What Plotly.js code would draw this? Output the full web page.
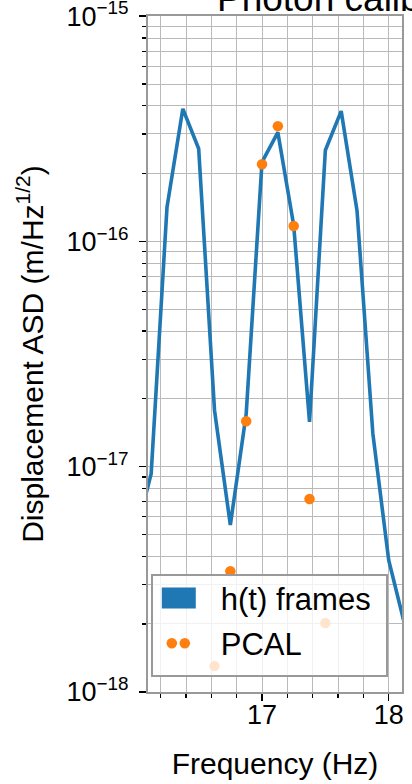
<!DOCTYPE html>
<html>
<head>
<meta charset="utf-8">
<script src="https://cdn.plot.ly/plotly-3.0.1.min.js"></script>
<style>html,body{margin:0;padding:0;background:#fff;}#chart{width:412px;height:784px;}</style>
</head>
<body>
<div id="chart"></div>
<script>
// ---- data ----
const htFreq = [16.0, 16.125, 16.25, 16.375, 16.5, 16.625, 16.75, 16.875, 17.0, 17.125, 17.25, 17.375, 17.5, 17.625, 17.75, 17.875, 18.0, 18.125];
const htASD  = [4.9e-18, 9.3e-18, 1.42e-16, 3.88e-16, 2.58e-16, 1.78e-17, 5.5e-18, 1.71e-17, 2.25e-16, 3.05e-16, 1.18e-16, 1.58e-17, 2.54e-16, 3.79e-16, 1.37e-16, 1.40e-17, 3.84e-18, 2.0e-18];
const pcalFreq = [16.625, 16.75, 16.875, 17.0, 17.125, 17.25, 17.375, 17.5];
const pcalASD  = [1.30e-18, 3.43e-18, 1.59e-17, 2.20e-16, 3.25e-16, 1.17e-16, 7.18e-18, 2.02e-18];
const xTickVals = [17, 18];
const xTickText = ['17', '18'];
const yTickVals = [1e-18, 1e-17, 1e-16, 1e-15];
const yTickText = ['10<sup>\u221218</sup>', '10<sup>\u221217</sup>', '10<sup>\u221216</sup>', '10<sup>\u221215</sup>'];
const seriesNames = ['h(t) frames', 'PCAL'];
const titleText = 'Photon calibrator';
const xTitle = 'Frequency (Hz)';
const yTitle = 'Displacement ASD (m/Hz<sup>1/2</sup>)';

// minor log ticks (2..9 per decade)
const yMinor = [];
for (let d = -18; d < -15; d++) for (let m = 2; m <= 9; m++) yMinor.push(m * Math.pow(10, d));

const FONT = '"Liberation Sans", Arial, Helvetica, sans-serif';
const GRID = '#bababa';

const traces = [
  {x: htFreq, y: htASD, type: 'scatter', mode: 'lines', name: seriesNames[0],
   line: {color: '#1f77b4', width: 3.6}, legendgroup: 'a'},
  {x: pcalFreq, y: pcalASD, type: 'scatter', mode: 'markers', name: seriesNames[1],
   marker: {color: '#ff7f0e', size: 10.5}, legendgroup: 'b'}
];

const layout = {
  width: 412, height: 784,
  margin: {l: 148, r: 10, t: 16, b: 92},
  paper_bgcolor: '#fff', plot_bgcolor: '#fff',
  font: {family: FONT, color: '#000', size: 27},
  showlegend: true,
  legend: {x: 0.011, y: 0.174, xanchor: 'left', yanchor: 'top', itemwidth: 58,
           bgcolor: 'rgba(255,255,255,0.8)', bordercolor: '#999', borderwidth: 2,
           font: {size: 31, family: FONT}, tracegroupgap: 2},
  xaxis: {range: [16.1, 18.105], tickmode: 'array', tickvals: xTickVals, ticktext: xTickText,
          ticks: 'outside', ticklen: 7, tickwidth: 1.5, tickcolor: '#000',
          showgrid: true, gridcolor: GRID, gridwidth: 1, zeroline: false,
          showline: true, linecolor: '#999', linewidth: 2, mirror: true,
          tickfont: {size: 27}, ticklabelstandoff: -9, ticklabeloverflow: 'allow',
          minor: {tick0: 17, dtick: 0.2, ticks: 'outside', ticklen: 4, tickwidth: 1.2, tickcolor: '#000',
                  showgrid: true, gridcolor: GRID, gridwidth: 1},
          title: {text: xTitle, font: {size: 30}, standoff: 24}},
  yaxis: {type: 'log', range: [-18.001, -14.999], tickmode: 'array', tickvals: yTickVals, ticktext: yTickText,
          ticks: 'outside', ticklen: 7, tickwidth: 1.5, tickcolor: '#000',
          showgrid: true, gridcolor: GRID, gridwidth: 1, zeroline: false,
          showline: true, linecolor: '#999', linewidth: 2, mirror: true,
          tickfont: {size: 27}, ticklabelstandoff: 5, ticklabeloverflow: 'allow',
          minor: {tickmode: 'array', tickvals: yMinor, ticks: 'outside', ticklen: 4, tickwidth: 1.2, tickcolor: '#000',
                  showgrid: true, gridcolor: GRID, gridwidth: 1},
          title: {text: yTitle, font: {size: 30}, standoff: 14}},
  annotations: [{text: titleText, xref: 'paper', yref: 'paper', x: 0.2638, y: 1.0, xanchor: 'left', yanchor: 'middle',
                 yshift: 18, showarrow: false, font: {size: 37, family: FONT}}]
};

Plotly.newPlot('chart', traces, layout, {displayModeBar: false, staticPlot: true}).then(function (gd) {
  const items = gd.querySelectorAll('.legend .traces');
  items.forEach(function (it) {
    const m = /translate\(\s*([-\d.]+)[ ,]+([-\d.]+)\s*\)/.exec(it.getAttribute('transform') || '');
    if (m) it.setAttribute('transform', 'translate(' + m[1] + ',' + (parseFloat(m[2]) - 5) + ')');
  });
  if (items[0]) {
    const ln = items[0].querySelector('.legendlines path');
    if (ln) { ln.setAttribute('d', 'M9,0h34'); ln.style.strokeWidth = '21px'; ln.style.strokeLinecap = 'butt'; }
  }
  if (items[1]) {
    const pt = items[1].querySelector('.legendpoints path.scatterpts');
    if (pt) {
      const c = pt.cloneNode(true);
      pt.parentNode.appendChild(c);
      pt.setAttribute('transform', 'translate(19,0)');
      c.setAttribute('transform', 'translate(32,0)');
    }
  }
  const bg = gd.querySelector('.legend rect.bg');
  if (bg) bg.setAttribute('width', '235');
});
</script>
</body>
</html>
